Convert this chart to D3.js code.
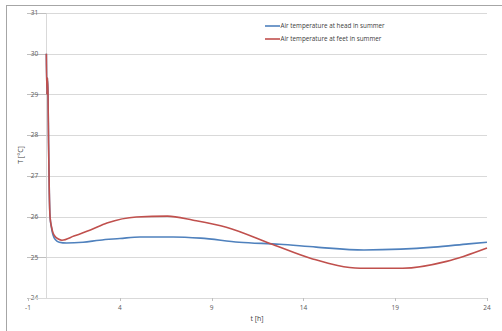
<!DOCTYPE html>
<html>
<head>
<meta charset="utf-8">
<script src="https://d3js.org/d3.v7.min.js"></script>
<style>
  body { margin: 0; background: #fff; }
  text { font-family: "Open Sans", "Liberation Sans", sans-serif; }
</style>
</head>
<body>
<div id="container"></div>
<script>
// Data
const headT = [0, 0.03, 0.06, 0.09, 0.12, 0.16, 0.2, 0.28, 0.36, 0.5, 0.7, 1.1, 2.0, 2.9, 4.0, 5.1, 6.9, 8.4, 10.5, 12.7, 14.7, 17.3, 19.3, 21.1, 23, 24]
const headV = [30, 29.0, 29.4, 29.0, 27.8, 26.6, 26.0, 25.72, 25.55, 25.43, 25.37, 25.35, 25.37, 25.42, 25.46, 25.5, 25.5, 25.47, 25.37, 25.32, 25.25, 25.18, 25.2, 25.25, 25.33, 25.37]
const feetT = [0, 0.03, 0.06, 0.09, 0.12, 0.16, 0.2, 0.28, 0.36, 0.5, 0.65, 0.85, 1.5, 2.4, 3.3, 4.9, 6.6, 8.0, 9.8, 12.3, 14.5, 17.1, 19.4, 21.8, 24]
const feetV = [30, 29.0, 29.4, 29.0, 27.8, 26.6, 26.0, 25.75, 25.6, 25.5, 25.45, 25.42, 25.52, 25.67, 25.84, 25.99, 26.01, 25.91, 25.74, 25.32, 24.96, 24.73, 24.73, 24.9, 25.23]
const xTicks = [-1, 4, 9, 14, 19, 24]
const yTicks = [24, 25, 26, 27, 28, 29, 30, 31]
const seriesNames = ["Air temperature at head in summer", "Air temperature at feet in summer"]
const seriesColors = ["#4f81bd", "#c0504d"]

const w = 502
const h = 331

const xScale = d3.scaleLinear().domain([-1, 24]).range([28, 487])
const yScale = d3.scaleLinear().domain([24, 31]).range([298, 13])

const svg = d3.select("#container").append("svg")
    .attr("width", w)
    .attr("height", h)

// Outer border
svg.append("rect")
    .attr("x", 6.5).attr("y", 5.5)
    .attr("width", 520).attr("height", 340)
    .attr("fill", "none")
    .attr("stroke", "#a6a6a6")

// Gridlines
svg.append("g").selectAll("line")
    .data(yTicks.filter(d => d > 24))
    .enter().append("line")
    .attr("x1", xScale(0)).attr("x2", xScale(24))
    .attr("y1", d => Math.round(yScale(d)) + 0.5)
    .attr("y2", d => Math.round(yScale(d)) + 0.5)
    .attr("stroke", "#d9d9d9")

// Y axis at t = 0
svg.append("line")
    .attr("x1", Math.round(xScale(0)) + 0.5).attr("x2", Math.round(xScale(0)) + 0.5)
    .attr("y1", yScale(31)).attr("y2", yScale(24))
    .attr("stroke", "#d9d9d9")

// Y ticks + labels
const yAx = svg.append("g")
yAx.selectAll("line").data(yTicks).enter().append("line")
    .attr("x1", 27).attr("x2", xScale(0))
    .attr("y1", d => Math.round(yScale(d)) + 0.5)
    .attr("y2", d => Math.round(yScale(d)) + 0.5)
    .attr("stroke", "#bfbfbf")
yAx.selectAll("text").data(yTicks).enter().append("text")
    .attr("x", 34.5)
    .attr("y", d => yScale(d) + 2.3)
    .attr("text-anchor", "middle")
    .attr("font-size", 6.5)
    .attr("fill", "#595959")
    .text(d => d)

// X axis
svg.append("line")
    .attr("x1", xScale(-1)).attr("x2", xScale(24))
    .attr("y1", Math.round(yScale(24)) + 0.5).attr("y2", Math.round(yScale(24)) + 0.5)
    .attr("stroke", "#d9d9d9")
const xAx = svg.append("g")
xAx.selectAll("line").data(xTicks).enter().append("line")
    .attr("x1", d => Math.round(xScale(d)) + 0.5).attr("x2", d => Math.round(xScale(d)) + 0.5)
    .attr("y1", yScale(24)).attr("y2", yScale(24) + 3)
    .attr("stroke", "#bfbfbf")
xAx.selectAll("text").data(xTicks).enter().append("text")
    .attr("x", d => xScale(d))
    .attr("y", 310)
    .attr("text-anchor", "middle")
    .attr("font-size", 6.5)
    .attr("fill", "#595959")
    .text(d => d)

// Axis titles
svg.append("text")
    .attr("x", 257).attr("y", 321)
    .attr("text-anchor", "middle")
    .attr("font-size", 7)
    .attr("fill", "#404040")
    .text("t [h]")
svg.append("text")
    .attr("transform", "translate(23,155)rotate(-90)")
    .attr("text-anchor", "middle")
    .attr("font-size", 7)
    .attr("fill", "#404040")
    .text("T [°C]")

// Lines
const line = d3.line()
    .x(d => xScale(d[0]))
    .y(d => yScale(d[1]))
    .curve(d3.curveMonotoneX)

const series = [d3.zip(headT, headV), d3.zip(feetT, feetV)]
svg.append("g").selectAll("path")
    .data(series)
    .enter().append("path")
    .attr("d", line)
    .attr("fill", "none")
    .attr("stroke", (d, i) => seriesColors[i])
    .attr("stroke-width", 1.6)
    .attr("stroke-linejoin", "round")

// Legend
const legend = svg.append("g").selectAll("g")
    .data(seriesNames)
    .enter().append("g")
    .attr("transform", (d, i) => "translate(265," + (26 + i * 13) + ")")
legend.append("line")
    .attr("x1", 0).attr("x2", 15)
    .attr("stroke", (d, i) => seriesColors[i])
    .attr("stroke-width", 1.6)
legend.append("text")
    .attr("x", 15.5).attr("y", 2.2)
    .attr("font-size", 6.3)
    .attr("fill", "#404040")
    .text(d => d)
</script>
</body>
</html>
